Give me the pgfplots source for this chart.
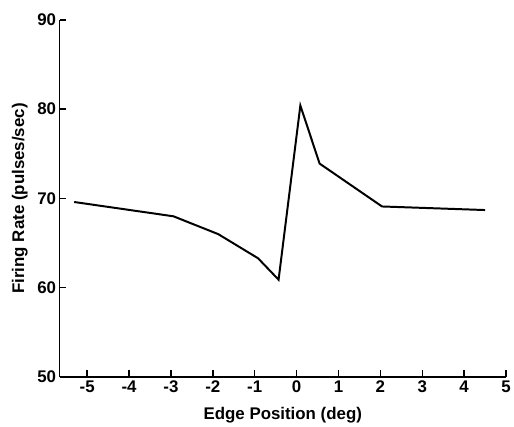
\documentclass[border=0pt]{standalone}
\usepackage{fontspec}
\setmainfont{Liberation Sans}
\usepackage{pgfplots}
\pgfplotsset{compat=1.18}

\begin{document}
\begin{tikzpicture}
  \begin{axis}[
    scale only axis,
    width=450pt, height=360pt,
    xmin=-5.66, xmax=5, ymin=50, ymax=90,
    xtick={-5,-4,...,5}, ytick={50,60,...,90},
    axis x line*=bottom, axis y line*=left,
    axis line style={line width=1.6pt},
    tick align=inside,
    major tick length=7pt,
    tick style={line width=1.4pt, black},
    /pgf/number format/assume math mode=true,
    ticklabel style={font=\fontsize{17}{20}\selectfont\bfseries},
    label style={font=\fontsize{17}{20}\selectfont\bfseries},
    xlabel={Edge Position (deg)},
    ylabel={Firing Rate (pulses/sec)},
    xlabel style={at={(axis description cs:0.5,-0.106)}, anchor=center},
    ylabel style={at={(axis description cs:-0.089,0.5)}, anchor=center},
    clip=false,
  ]
    \addplot[black, line width=2pt, mark=none] coordinates {
      (-5.31,69.6) (-2.94,68.0) (-1.87,66.0) (-0.92,63.3) (-0.43,60.9)
      (0.09,80.4) (0.55,73.9) (2.04,69.1) (4.5,68.7)
    };
  \end{axis}
  \useasboundingbox (-60pt,-49pt) rectangle (454pt,380pt);
\end{tikzpicture}
\end{document}
